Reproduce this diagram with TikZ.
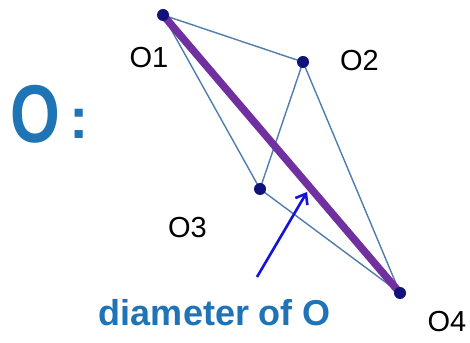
\documentclass[tikz,border=0pt]{standalone}
\usepackage{fontspec}
\setmainfont{Liberation Sans}
\usetikzlibrary{arrows.meta}
\definecolor{edgeblue}{HTML}{4F7DAE}
\definecolor{diampurple}{HTML}{7030A0}
\definecolor{dotnavy}{HTML}{12137A}
\definecolor{textblue}{HTML}{1F74B6}
\definecolor{arrowblue}{HTML}{1414D6}
\begin{document}
\begin{tikzpicture}[x=1pt,y=1pt,
  edge/.style={draw=edgeblue,line width=1.4pt},
  diam/.style={draw=diampurple,line width=7.5pt},
  pt/.style={circle,fill=dotnavy,inner sep=0pt,minimum size=12pt},
  lbl/.style={font=\fontsize{29}{32}\selectfont,inner sep=0pt,text=black}]
\fill[white] (0,0) rectangle (470,342);
\useasboundingbox (0,0) rectangle (470,342);
\coordinate (o1) at (163,327);
\coordinate (o2) at (303,280);
\coordinate (o3) at (260,153);
\coordinate (o4) at (400,49);
\draw[edge] (o1) -- (o2);
\draw[edge] (o1) -- (o3);
\draw[edge] (o2) -- (o3);
\draw[edge] (o2) -- (o4);
\draw[edge] (o3) -- (o4);
\draw[diam] (o1) -- (o4);
\node[pt] (p1) at (o1) {};
\node[pt] (p2) at (o2) {};
\node[pt] (p3) at (o3) {};
\node[pt] (p4) at (o4) {};
\node[lbl] (l1) at (149,284.5) {O1};
\node[lbl] (l2) at (359.5,281) {O2};
\node[lbl] (l3) at (187.5,114.5) {O3};
\node[lbl] (l4) at (447,20) {O4};
\node[font=\fontsize{82}{84}\selectfont\bfseries,text=textblue,inner sep=0pt,xscale=0.78] (title) at (35,228) {O};
\node[font=\fontsize{58}{60}\selectfont\bfseries,text=textblue,inner sep=0pt] (colon) at (79,218) {:};
\node[font=\fontsize{36}{40}\selectfont\bfseries,text=textblue,inner sep=0pt,anchor=base] (cap) at (215,17) {diameter of O};
\coordinate (atail) at (257,65);
\coordinate (ahead) at (307,150);
\draw[arrowblue,line width=2.6pt,-{Straight Barb[length=9pt,width=14pt]}] (atail) -- (ahead);
\end{tikzpicture}
\end{document}
